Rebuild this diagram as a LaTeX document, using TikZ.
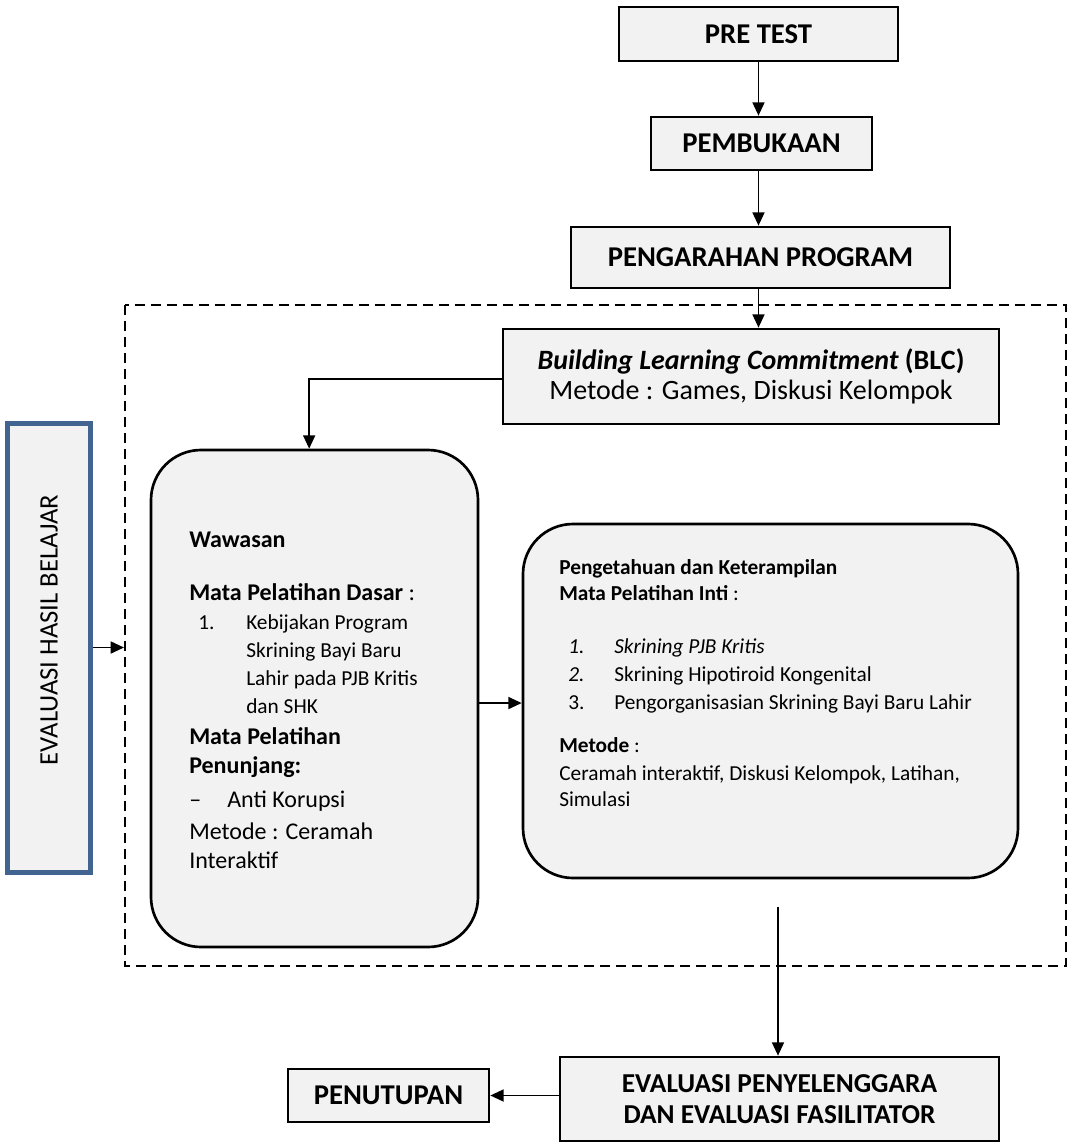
\documentclass[tikz,border=0pt]{standalone}
\usepackage{fontspec}
\setmainfont{Carlito}
\usetikzlibrary{arrows.meta}
\definecolor{boxfill}{HTML}{F2F2F2}
\definecolor{evblue}{RGB}{65,100,145}
\tikzset{
  box/.style={draw, line width=2pt, fill=boxfill, inner sep=0pt, align=center},
  rbox/.style={box, rounded corners=37.5pt},
  conn/.style={line width=1.3pt, -{Triangle[length=10pt,width=9pt]}},
  txt/.style={anchor=base west, inner sep=0pt},
  capsb/.style={font=\fontsize{21.5}{25}\selectfont\bfseries},
  fl/.style={font=\fontsize{18}{21}\selectfont},
  fs/.style={font=\fontsize{16}{19}\selectfont},
}
\begin{document}
\begin{tikzpicture}[x=0.75pt,y=-0.75pt]
\useasboundingbox (0,0) rectangle (1068,1143);
% dashed frame
\draw[line width=2.1pt, dash pattern=on 7.5pt off 4.5pt] (125,305) rectangle (1066,966);

% top chain
\node[box, capsb, minimum width=209.25pt, minimum height=40.5pt] (pre) at (758.5,34) {PRE TEST};
\node[box, capsb, minimum width=165.75pt, minimum height=39.75pt] (pem) at (761.5,143.5) {PEMBUKAAN};
\node[box, capsb, minimum width=284.25pt, minimum height=45.75pt] (peng) at (760.5,257.5) {PENGARAHAN PROGRAM};
\node[box, minimum width=372pt, minimum height=71.25pt, font=\fontsize{21}{22.5}\selectfont] (blc) at (751,376.5)
  {\textbf{\textit{Building Learning Commitment} (BLC)}\\Metode : Games, Diskusi Kelompok};

% big rounded boxes
\node[rbox, minimum width=245.25pt, minimum height=372.75pt] (lbox) at (314.5,698.5) {};
\node[rbox, minimum width=371.25pt, minimum height=265.5pt] (rbox) at (770.5,701) {};

% left box texts
\node[txt, fl] (l1) at (189,547) {\textbf{Wawasan}};
\node[txt, fl] (l2) at (189,600) {\textbf{Mata Pelatihan Dasar} :};
\node[txt, fs] (l3n) at (198,629) {1.};
\node[txt, fs] (l3) at (246,629) {Kebijakan Program};
\node[txt, fs] (l4) at (246,657) {Skrining Bayi Baru};
\node[txt, fs] (l5) at (246,685) {Lahir pada PJB Kritis};
\node[txt, fs] (l6) at (246,713) {dan SHK};
\node[txt, fl] (l7) at (189,744) {\textbf{Mata Pelatihan}};
\node[txt, fl] (l8) at (189,773) {\textbf{Penunjang:}};
\node[txt, fl] (l9n) at (189,807) {–};
\node[txt, fl] (l9) at (227,807) {Anti Korupsi};
\node[txt, fl] (l10) at (189,839) {Metode : Ceramah};
\node[txt, fl] (l11) at (189,868) {Interaktif};

% right box texts
\node[txt, fs] (r1) at (559,574) {\textbf{Pengetahuan dan Keterampilan}};
\node[txt, fs] (r2) at (559,600) {\textbf{Mata Pelatihan Inti} :};
\node[txt, fs] (r3n) at (568,653) {\textit{1.}};
\node[txt, fs] (r3) at (614,653) {\textit{Skrining PJB Kritis}};
\node[txt, fs] (r4n) at (568,681) {\textit{2.}};
\node[txt, fs] (r4) at (614,681) {Skrining Hipotiroid Kongenital};
\node[txt, fs] (r5n) at (568,709) {3.};
\node[txt, fs] (r5) at (614,709) {Pengorganisasian Skrining Bayi Baru Lahir};
\node[txt, fs] (r6) at (559,752) {\textbf{Metode} :};
\node[txt, fs] (r7) at (559,780) {Ceramah interaktif, Diskusi Kelompok, Latihan,};
\node[txt, fs] (r8) at (559,806) {Simulasi};

% evaluasi hasil belajar
\node[draw=evblue, line width=3.75pt, fill=boxfill, minimum width=62.25pt, minimum height=336.75pt, inner sep=0pt] (ehb) at (48.5,647.5) {};
\node[rotate=90, font=\fontsize{20}{24}\selectfont, inner sep=0pt] (ehbt) at (49,630) {EVALUASI HASIL BELAJAR};
\coordinate (dashL) at (124,647.5);

% bottom boxes
\node[box, font=\fontsize{20.5}{23.25}\selectfont\bfseries, minimum width=329.25pt, minimum height=63pt] (evalb) at (779.5,1099)
  {EVALUASI PENYELENGGARA\\DAN EVALUASI FASILITATOR};
\node[box, capsb, minimum width=150.75pt, minimum height=39.75pt] (penut) at (388.5,1095.5) {PENUTUPAN};
\coordinate (rstart) at (778,907);

% connectors
\draw[conn] (pre.south) -- (pre.south |- pem.north);
\draw[conn] (pem.south -| pre.south) -- (pre.south |- peng.north);
\draw[conn] (peng.south -| pre.south) -- (pre.south |- blc.north);
\draw[conn] ([yshift=-2pt]blc.west) -| ([xshift=-4pt]lbox.north);
\draw[conn] ([yshift=-3.4pt]lbox.east) -- ([yshift=-3.4pt]lbox.east -| rbox.west);
\draw[conn] (ehb.east) -- (dashL);
\draw[conn] (rstart) -- (rstart |- evalb.north);
\draw[conn] (evalb.west |- penut.east) -- (penut.east);
\end{tikzpicture}
\end{document}
